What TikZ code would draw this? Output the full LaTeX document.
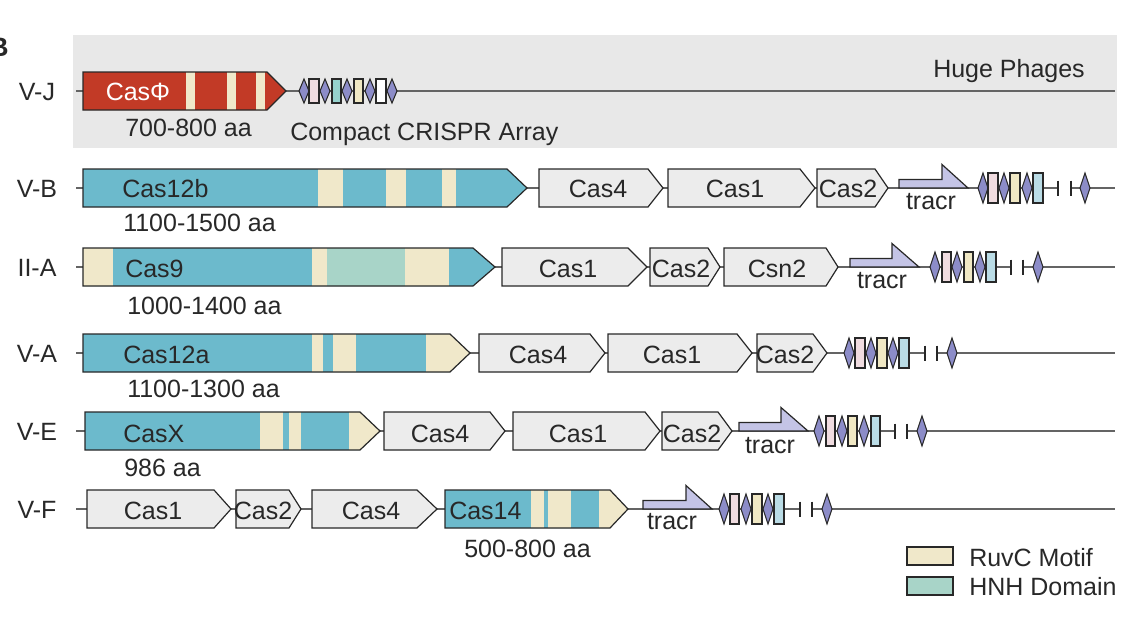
\documentclass[tikz,border=0pt]{standalone}
\usepackage{fontspec}
\setmainfont{Liberation Sans}
\definecolor{casred}{RGB}{194,58,38}
\definecolor{casblue}{RGB}{108,186,204}
\definecolor{ruvc}{RGB}{240,232,202}
\definecolor{hnh}{RGB}{168,212,200}
\definecolor{cgray}{RGB}{236,236,236}
\definecolor{bggray}{RGB}{232,232,232}
\definecolor{tracrc}{RGB}{196,196,230}
\definecolor{repc}{RGB}{140,140,200}
\definecolor{sppink}{RGB}{240,220,224}
\definecolor{spyel}{RGB}{240,232,196}
\definecolor{spblue}{RGB}{186,220,230}
\definecolor{sptea}{RGB}{150,210,205}
\definecolor{ink}{RGB}{40,40,40}
\definecolor{linec}{RGB}{100,100,100}
\tikzset{
  geneedge/.style={draw=ink, line width=0.9pt, line join=miter},
  genome/.style={draw=linec, line width=1pt},
  repst/.style={draw=ink, line width=0.8pt, fill=repc},
  spst/.style={draw=ink, line width=0.8pt},
  tickst/.style={draw=ink, line width=0.9pt},
  tracrst/.style={draw=ink, line width=0.9pt, fill=tracrc},
  txt/.style={inner sep=0pt, text=ink, anchor=base},
  txtw/.style={inner sep=0pt, text=ink, anchor=base west},
}
\newcommand{\geneclip}[4]{\clip (#1,#4-19)--(#2,#4-19)--(#3,#4)--(#2,#4+19)--(#1,#4+19)--cycle;}
\newcommand{\geneedge}[4]{\draw[geneedge] (#1,#4-19)--(#2,#4-19)--(#3,#4)--(#2,#4+19)--(#1,#4+19)--cycle;}
\newcommand{\graygene}[4]{\filldraw[geneedge, fill=cgray] (#1,#4-19)--(#2,#4-19)--(#3,#4)--(#2,#4+19)--(#1,#4+19)--cycle;}
\newcommand{\band}[3]{\fill[#1] (#2,0) rectangle (#3,622);}
\newcommand{\crrep}[3]{\filldraw[repst] (#1-5,#2)--(#1,#2-#3)--(#1+5,#2)--(#1,#2+#3)--cycle;}
\newcommand{\crsp}[5]{\filldraw[spst, fill=#4] (#1,#3-#5) rectangle (#2,#3+#5);}
\newcommand{\crtick}[2]{\draw[tickst] (#1,#2-7.5)--(#1,#2+7.5);}
\newcommand{\tracrshape}[4]{\filldraw[tracrst] (#1,#4-8.5)--(#2,#4-8.5)--(#2,#4-23.5)--(#3,#4)--(#1,#4)--cycle;}
\begin{document}
\begin{tikzpicture}[x=0.75pt,y=-0.75pt,font=\fontsize{18.75}{22}\selectfont]
\useasboundingbox (0,0) rectangle (1122,622);
\fill[white] (0,0) rectangle (1122,622);
% panel letter (cut at the edge, as in the source)
\node[txt, anchor=base east, font=\fontsize{20}{22}\selectfont\bfseries] (panelB) at (9,56) {B};
% huge phage background
\fill[bggray] (73,35) rectangle (1117,148);

% ---------------- V-J ----------------
\draw[genome] (76,91) -- (1115,91);
\begin{scope}\geneclip{83}{267}{286}{91}
\fill[casred] (80,60) rectangle (290,120);
\band{ruvc}{186}{195}\band{ruvc}{227}{236}\band{ruvc}{256}{265}
\end{scope}
\geneedge{83}{267}{286}{91}
\crrep{304}{91}{12}\crsp{309}{319}{91}{sppink}{12}
\crrep{325}{91}{12}\crsp{332}{341}{91}{sptea}{12}
\crrep{347}{91}{12}\crsp{354}{363}{91}{spyel}{12}
\crrep{370}{91}{12}\crsp{376}{386}{91}{white}{12}
\crrep{392}{91}{12}
\node[txt] (lVJ) at (37,100) {V-J};
\node[txt, text=white] (casphi) at (138,100) {CasΦ};
\node[txtw] (aaVJ) at (125,136) {700-800 aa};
\node[txtw] (array) at (290,140) {Compact CRISPR Array};
\node[txtw] (huge) at (933,77) {Huge Phages};

% ---------------- V-B ----------------
\draw[genome] (76,188) -- (1058,188);
\draw[genome] (1071,188) -- (1115,188);
\begin{scope}\geneclip{83}{507}{527}{188}
\fill[casblue] (80,160) rectangle (530,215);
\band{ruvc}{318}{343}\band{ruvc}{386}{406}\band{ruvc}{442}{456}
\end{scope}
\geneedge{83}{507}{527}{188}
\graygene{539}{648}{663}{188}
\graygene{668}{800}{815}{188}
\graygene{817}{875}{888}{188}
\tracrshape{899}{942}{968}{188}
\crrep{983}{188}{15}\crsp{988}{998}{188}{sppink}{15}
\crrep{1004}{188}{15}\crsp{1010}{1020}{188}{spyel}{15}
\crrep{1027}{188}{15}\crsp{1033}{1043}{188}{spblue}{15}
\crtick{1058}{188}\crtick{1071}{188}
\crrep{1085}{188}{15}
\node[txt] (lVB) at (37,197) {V-B};
\node[txtw] (c12b) at (122,197) {Cas12b};
\node[txtw] (aaVB) at (123,231) {1100-1500 aa};
\node[txt] (vbc4) at (598,197) {Cas4};
\node[txt] (vbc1) at (735,197) {Cas1};
\node[txt] (vbc2) at (848,197) {Cas2};
\node[txt] (vbtr) at (931,209) {tracr};

% ---------------- II-A ----------------
\draw[genome] (76,267) -- (1011,267);
\draw[genome] (1023,267) -- (1115,267);
\begin{scope}\geneclip{83}{473}{495}{267}
\fill[casblue] (80,240) rectangle (500,295);
\band{ruvc}{83}{113}\band{ruvc}{312}{327}\band{hnh}{327}{405}\band{ruvc}{405}{449}
\end{scope}
\geneedge{83}{473}{495}{267}
\graygene{502}{628}{647}{267}
\graygene{650}{708}{720}{267}
\graygene{724}{826}{838}{267}
\tracrshape{850}{892}{919}{267}
\crrep{935}{267}{15}\crsp{942}{951}{267}{sppink}{15}
\crrep{957}{267}{15}\crsp{964}{973}{267}{spyel}{15}
\crrep{980}{267}{15}\crsp{986}{996}{267}{spblue}{15}
\crtick{1011}{267}\crtick{1023}{267}
\crrep{1038}{267}{15}
\node[txt] (lIIA) at (37,276) {II-A};
\node[txtw] (c9) at (125,277) {Cas9};
\node[txtw] (aaIIA) at (127,314) {1000-1400 aa};
\node[txt] (iac1) at (568,277) {Cas1};
\node[txt] (iac2) at (681,277) {Cas2};
\node[txt] (iacsn) at (777,277) {Csn2};
\node[txt] (iatr) at (882,288) {tracr};

% ---------------- V-A ----------------
\draw[genome] (76,353) -- (925,353);
\draw[genome] (937,353) -- (1115,353);
\begin{scope}\geneclip{83}{450}{470}{353}
\fill[casblue] (80,325) rectangle (475,380);
\band{ruvc}{312}{323}\band{ruvc}{333}{356}\band{ruvc}{426}{480}
\end{scope}
\geneedge{83}{450}{470}{353}
\graygene{479}{590}{605}{353}
\graygene{608}{737}{752}{353}
\graygene{757}{813}{827}{353}
\crrep{849}{353}{15}\crsp{855}{865}{353}{sppink}{15}
\crrep{871}{353}{15}\crsp{877}{887}{353}{spyel}{15}
\crrep{893}{353}{15}\crsp{899}{909}{353}{spblue}{15}
\crtick{925}{353}\crtick{937}{353}
\crrep{952}{353}{15}
\node[txt] (lVA) at (37,362) {V-A};
\node[txtw] (c12a) at (123,363) {Cas12a};
\node[txtw] (aaVA) at (127,397) {1100-1300 aa};
\node[txt] (vac4) at (538,363) {Cas4};
\node[txt] (vac1) at (672,363) {Cas1};
\node[txt] (vac2) at (785,363) {Cas2};

% ---------------- V-E ----------------
\draw[genome] (76,431) -- (895,431);
\draw[genome] (907,431) -- (1115,431);
\begin{scope}\geneclip{85}{360}{380}{431}
\fill[casblue] (80,405) rectangle (385,460);
\band{ruvc}{260}{283}\band{ruvc}{289}{301}\band{ruvc}{349}{390}
\end{scope}
\geneedge{85}{360}{380}{431}
\graygene{384}{490}{505}{431}
\graygene{513}{645}{660}{431}
\graygene{662}{718}{732}{431}
\tracrshape{739}{781}{808}{431}
\crrep{819}{431}{15}\crsp{826}{835}{431}{sppink}{15}
\crrep{842}{431}{15}\crsp{848}{857}{431}{spyel}{15}
\crrep{864}{431}{15}\crsp{871}{880}{431}{spblue}{15}
\crtick{895}{431}\crtick{907}{431}
\crrep{922}{431}{15}
\node[txt] (lVE) at (37,440) {V-E};
\node[txtw] (cx) at (123,442) {CasX};
\node[txtw] (aaVE) at (124,476) {986 aa};
\node[txt] (vec4) at (440,442) {Cas4};
\node[txt] (vec1) at (578,442) {Cas1};
\node[txt] (vec2) at (692,442) {Cas2};
\node[txt] (vetr) at (770,453) {tracr};

% ---------------- V-F ----------------
\draw[genome] (76,509) -- (800,509);
\draw[genome] (812,509) -- (1115,509);
\graygene{87}{214}{231}{509}
\graygene{236}{289}{301}{509}
\graygene{312}{417}{437}{509}
\begin{scope}\geneclip{445}{610}{628}{509}
\fill[casblue] (440,485) rectangle (630,535);
\band{ruvc}{531}{544}\band{ruvc}{548}{571}\band{ruvc}{599}{630}
\end{scope}
\geneedge{445}{610}{628}{509}
\tracrshape{643}{686}{712}{509}
\crrep{724}{509}{15}\crsp{730}{739}{509}{sppink}{15}
\crrep{746}{509}{15}\crsp{752}{762}{509}{spyel}{15}
\crrep{768}{509}{15}\crsp{774}{784}{509}{spblue}{15}
\crtick{800}{509}\crtick{812}{509}
\crrep{827}{509}{15}
\node[txt] (lVF) at (37,518) {V-F};
\node[txt] (vfc1) at (153,519) {Cas1};
\node[txt] (vfc2) at (263,519) {Cas2};
\node[txt] (vfc4) at (371,519) {Cas4};
\node[txtw] (c14) at (449,519) {Cas14};
\node[txtw] (aaVF) at (464,557) {500-800 aa};
\node[txt] (vftr) at (672,529) {tracr};

% ---------------- legend ----------------
\filldraw[spst, fill=ruvc] (907,547) rectangle (953,565);
\filldraw[spst, fill=hnh] (907,577) rectangle (953,595);
\node[txtw] (legR) at (969,566) {RuvC Motif};
\node[txtw] (legH) at (969,595) {HNH Domain};
\end{tikzpicture}
\end{document}
